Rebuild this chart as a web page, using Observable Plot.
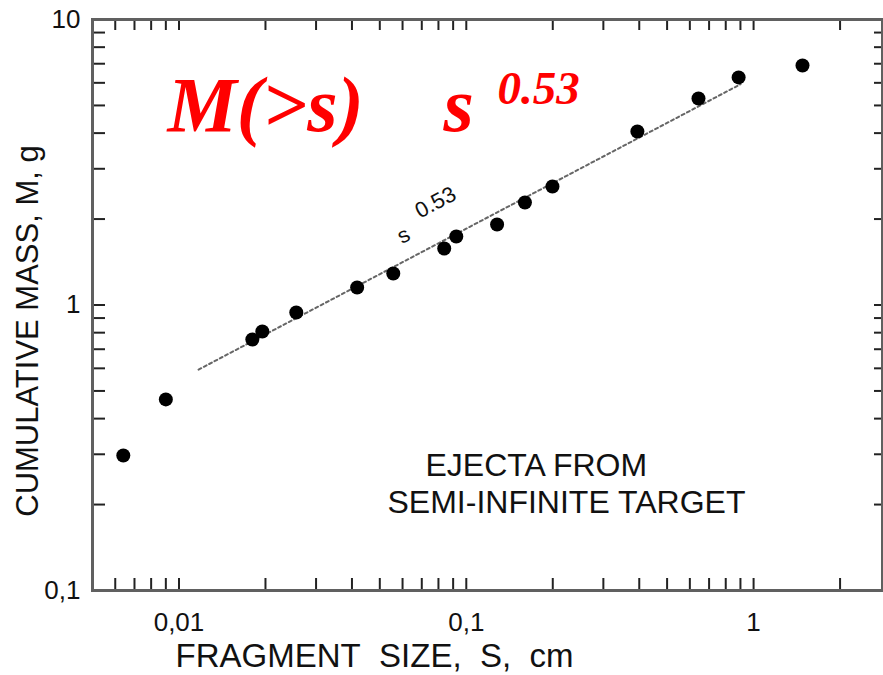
<!DOCTYPE html>
<html>
<head>
<meta charset="utf-8">
<script src="https://cdn.jsdelivr.net/npm/d3@7"></script>
<script src="https://cdn.jsdelivr.net/npm/@observablehq/plot@0.6"></script>
<style>
  html, body { margin: 0; padding: 0; background: #fff; }
  #chart svg { display: block; }
</style>
</head>
<body>
<div id="chart"></div>
<script>
// ---- data ----
const sizes  = [0.0064, 0.0090, 0.0180, 0.0195, 0.0256, 0.0417, 0.0557, 0.0838, 0.0923, 0.128, 0.160, 0.1995, 0.394, 0.643, 0.887, 1.48];
const masses = [0.297, 0.467, 0.757, 0.808, 0.941, 1.152, 1.289, 1.577, 1.738, 1.914, 2.285, 2.60, 4.05, 5.29, 6.27, 6.90];
const fitSizes  = [0.0117, 0.90];
const fitMasses = [0.594, 5.93];
const xLabelTicks = [0.01, 0.1, 1];
const xTickText   = ["0,01", "0,1", "1"];
const yLabelTicks = [0.1, 1, 10];
const yTickText   = ["0,1", "1", "10"];
const xTitle = "FRAGMENT\u00a0\u00a0SIZE,\u00a0\u00a0S,\u00a0\u00a0cm";
const yTitle = "CUMULATIVE MASS, M, g";
const noteLines = ["EJECTA FROM", "SEMI-INFINITE TARGET"];
const bigLeft = "M(>s)";
const bigBase = "s";
const bigExp = "0.53";
const fitBase = "s";
const fitExp = "0.53";

// ---- build tables ----
const points = sizes.map((s, i) => ({s, m: masses[i]}));
const fit = fitSizes.map((s, i) => ({s, m: fitMasses[i]}));

const W = 883, H = 675, mt = 19, mr = 1, mb = 85, ml = 92;
const pw = W - ml - mr, ph = H - mt - mb;
const xDomain = [0.005, 2.81], yDomain = [0.1, 10];
const xt = d3.scaleLog().domain(xDomain).ticks().filter(d => d > xDomain[0] * 1.001 && d < xDomain[1]);
const yt = d3.scaleLog().domain(yDomain).ticks().filter(d => d > yDomain[0] * 1.001 && d < yDomain[1] * 0.999);

const sans = "'Liberation Sans', Arial, Helvetica, sans-serif";
const serif = "'Liberation Serif', 'Times New Roman', serif";

const chart = Plot.plot({
  width: W, height: H,
  marginTop: mt, marginRight: mr, marginBottom: mb, marginLeft: ml,
  style: {background: "#fff", fontFamily: sans, color: "#111"},
  x: {type: "log", domain: xDomain, axis: null},
  y: {type: "log", domain: yDomain, axis: null},
  marks: [
    // inward ticks on all four sides
    Plot.tickX(xt, {x: d => d, insetTop: ph - 12, stroke: "#222", strokeWidth: 2}),
    Plot.tickX(xt, {x: d => d, insetBottom: ph - 11, stroke: "#222", strokeWidth: 2}),
    Plot.tickY(yt, {y: d => d, insetRight: pw - 13, stroke: "#222", strokeWidth: 2}),
    Plot.tickY(yt, {y: d => d, insetLeft: pw - 8, stroke: "#222", strokeWidth: 2}),
    Plot.frame({stroke: "#606060", strokeWidth: 3}),
    // tick labels
    Plot.axisX(xLabelTicks, {anchor: "bottom", tickSize: 0, tickPadding: 22, fontSize: 26,
      tickFormat: d => xTickText[xLabelTicks.indexOf(d)], label: null, fill: "#111"}),
    Plot.axisY(yLabelTicks, {anchor: "left", tickSize: 0, tickPadding: 12, fontSize: 26,
      tickFormat: d => yTickText[yLabelTicks.indexOf(d)], label: null, fill: "#111"}),
    // fit line and data
    Plot.line(fit, {x: "s", y: "m", stroke: "#666", strokeWidth: 2, strokeDasharray: "3,3"}),
    Plot.dot(points, {x: "s", y: "m", r: 7, fill: "#000", stroke: "none"}),
    // fit annotation
    Plot.text([fitBase], {frameAnchor: "top-left", dx: 311, dy: 216, rotate: -28, fontSize: 22, textAnchor: "middle", lineAnchor: "middle", fill: "#111"}),
    Plot.text([fitExp], {frameAnchor: "top-left", dx: 343, dy: 183, rotate: -28, fontSize: 22, textAnchor: "middle", lineAnchor: "middle", fill: "#111"}),
    // big red formula
    Plot.text([bigLeft], {frameAnchor: "top-left", dx: 75, dy: 111, fontSize: 78, fontFamily: serif, fontWeight: "bold", fontStyle: "italic", fill: "#ff0000", textAnchor: "start", lineAnchor: "bottom"}),
    Plot.text([bigBase], {frameAnchor: "top-left", dx: 351, dy: 111, fontSize: 78, fontFamily: serif, fontWeight: "bold", fontStyle: "italic", fill: "#ff0000", textAnchor: "start", lineAnchor: "bottom"}),
    Plot.text([bigExp], {frameAnchor: "top-left", dx: 405, dy: 84, fontSize: 47, fontFamily: serif, fontWeight: "bold", fontStyle: "italic", fill: "#ff0000", textAnchor: "start", lineAnchor: "bottom"}),
    // note
    Plot.text([noteLines[0]], {frameAnchor: "top-left", dx: 333, dy: 456, fontSize: 32, textAnchor: "start", lineAnchor: "bottom", fill: "#111"}),
    Plot.text([noteLines[1]], {frameAnchor: "top-left", dx: 295, dy: 493, fontSize: 32, textAnchor: "start", lineAnchor: "bottom", fill: "#111"}),
    // axis titles
    Plot.text([xTitle], {frameAnchor: "bottom", dx: -113, dy: 76, fontSize: 33, textAnchor: "middle", lineAnchor: "bottom", fill: "#111"}),
    Plot.text([yTitle], {frameAnchor: "left", dx: -64, dy: 26, rotate: -90, fontSize: 31, textAnchor: "middle", lineAnchor: "middle", fill: "#111"})
  ]
});
document.getElementById("chart").append(chart);
</script>
</body>
</html>
